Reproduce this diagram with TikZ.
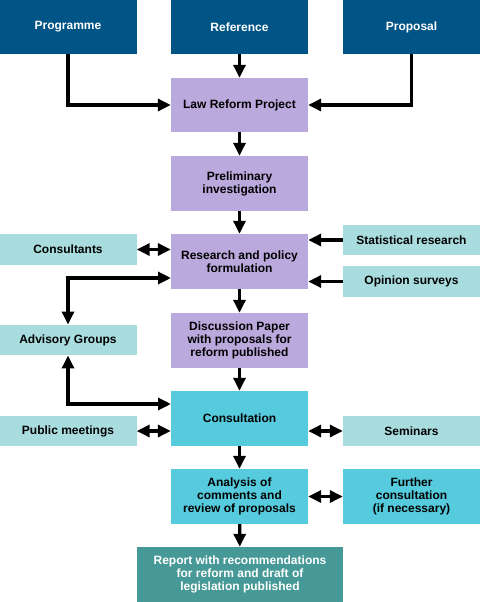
\documentclass[tikz,border=0pt]{standalone}
\usepackage{fontspec}
\setmainfont{Liberation Sans}
\usetikzlibrary{arrows.meta}
\definecolor{dblue}{HTML}{005486}
\definecolor{lilac}{HTML}{B9A9DC}
\definecolor{pale}{HTML}{A8DCDE}
\definecolor{cyanb}{HTML}{55CBDD}
\definecolor{tealb}{HTML}{469997}
\tikzset{
  box/.style={rectangle, inner sep=0pt, align=center, font=\fontsize{12}{13}\selectfont\bfseries, minimum width=137pt},
  topbox/.style={box, fill=dblue, text=white, minimum height=54pt},
  mainbox/.style={box, fill=lilac, minimum height=55pt},
  sidebox/.style={box, fill=pale, minimum height=30.5pt},
  cbox/.style={box, fill=cyanb, minimum height=55pt},
  repbox/.style={box, fill=tealb, text=white, minimum height=55pt, minimum width=206pt},
  tip/.tip={Triangle[length=13pt,width=12pt]},
  conn/.style={line width=3.2pt, -tip},
  dconn/.style={line width=3.2pt, tip-tip}
}
\begin{document}
\begin{tikzpicture}[x=1pt,y=-1pt]
\useasboundingbox (0,0) rectangle (480,602);
\node[topbox] (prog) at (68,27) {Programme};
\node[topbox] (ref) at (239.5,27) {Reference};
\node[topbox] (prop) at (411.5,27) {Proposal};
\node[mainbox, minimum height=54pt] (law) at (239.5,105) {Law Reform Project};
\node[mainbox] (pre) at (239.5,183.5) {Preliminary\\investigation};
\node[mainbox] (res) at (239.5,261.5) {Research and policy\\formulation};
\node[sidebox] (cons) at (68,249.5) {Consultants};
\node[sidebox] (stat) at (411.5,240) {Statistical research};
\node[sidebox] (opin) at (411.5,281.5) {Opinion surveys};
\node[mainbox] (disc) at (239.5,340.5) {Discussion Paper\\with proposals for\\reform published};
\node[sidebox] (adv) at (68,340) {Advisory Groups};
\node[cbox] (consu) at (239.5,418.5) {Consultation};
\node[sidebox] (pub) at (68,431) {Public meetings};
\node[sidebox] (sem) at (411.5,431) {Seminars};
\node[cbox] (ana) at (239.5,496.5) {Analysis of\\comments and\\review of proposals};
\node[cbox] (fur) at (411.5,496.5) {Further\\consultation\\(if necessary)};
\node[repbox] (rep) at (240,574.5) {Report with recommendations\\for reform and draft of\\legislation published};
\coordinate (rA) at (171,278);
\coordinate (cA) at (171,404);
\draw[conn] (prog.south) |- (law.west);
\draw[conn] (prop.south) |- (law.east);
\draw[conn] (ref) -- (law);
\draw[conn] (law) -- (pre);
\draw[conn] (pre) -- (res);
\draw[conn] (res) -- (disc);
\draw[conn] (disc) -- (consu);
\draw[conn] (consu) -- (ana);
\draw[conn] (ana) -- (rep);
\draw[dconn] (cons.east) -- (cons.east -| res.west);
\draw[conn] (stat.west) -- (stat.west -| res.east);
\draw[conn] (opin.west) -- (opin.west -| res.east);
\draw[dconn] (adv.north) |- (rA);
\draw[dconn] (adv.south) |- (cA);
\draw[dconn] (pub.east) -- (pub.east -| consu.west);
\draw[dconn] (sem.west) -- (sem.west -| consu.east);
\draw[dconn] (ana.east) -- (fur.west);
\end{tikzpicture}
\end{document}
